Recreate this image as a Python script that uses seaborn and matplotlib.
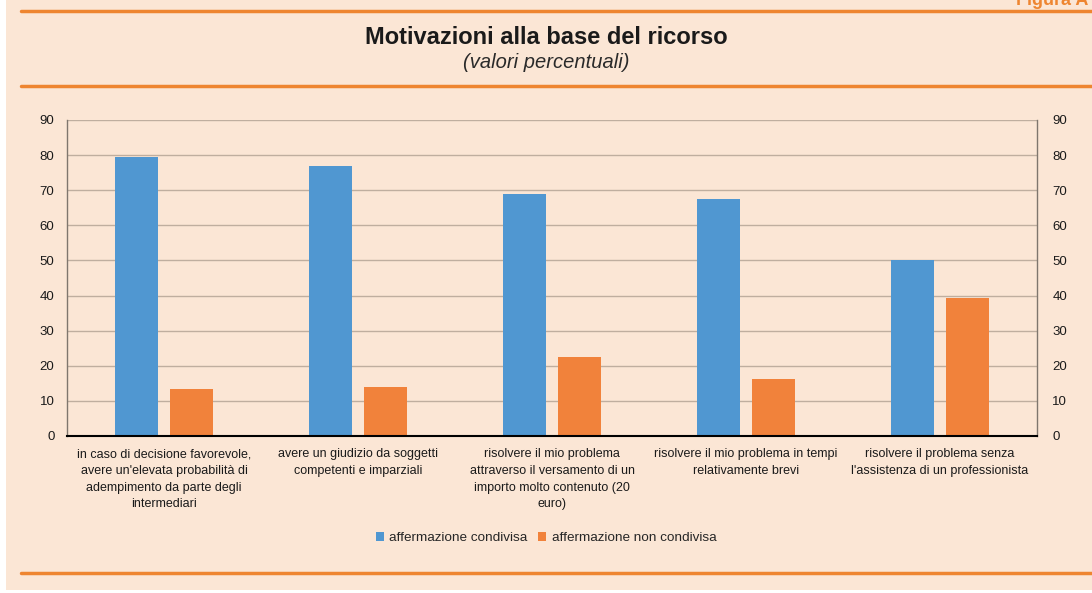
import pandas as pd
import matplotlib.pyplot as plt
import seaborn as sns
from matplotlib.patches import Rectangle

# Data
categories = [
    "in caso di decisione favorevole,\navere un'elevata probabilità di\nadempimento da parte degli\nintermediari",
    "avere un giudizio da soggetti\ncompetenti e imparziali",
    "risolvere il mio problema\nattraverso il versamento di un\nimporto molto contenuto (20\neuro)",
    "risolvere il mio problema in tempi\nrelativamente brevi",
    "risolvere il problema senza\nl'assistenza di un professionista",
]
condivisa = [79.5, 76.9, 68.9, 67.5, 50.1]
non_condivisa = [13.4, 14.0, 22.5, 16.2, 39.3]
series_names = ["affermazione condivisa", "affermazione non condivisa"]
y_ticks = list(range(0, 91, 10))

df = pd.DataFrame({
    "categoria": categories * 2,
    "serie": [series_names[0]] * 5 + [series_names[1]] * 5,
    "valore": condivisa + non_condivisa,
})

bg = "#FBE6D5"
orange_line = "#EE8530"
palette = {series_names[0]: "#5097D1", series_names[1]: "#F1823B"}

sns.set_style("white")
plt.rcParams['font.family'] = ['Liberation Sans', 'DejaVu Sans']

fig = plt.figure(figsize=(10.92, 5.93), dpi=100)
fig.patch.set_facecolor("white")
# peach panel
fig.patches.append(Rectangle((6 / 1092, 3 / 593), 1 - 6 / 1092, 1 - 3 / 593,
                             transform=fig.transFigure, facecolor=bg,
                             edgecolor="none", zorder=-10))
for yy in [11, 86, 573]:
    fig.add_artist(plt.Line2D([21 / 1092, 1.0], [1 - yy / 593, 1 - yy / 593],
                              transform=fig.transFigure, color=orange_line, lw=2.5))

# header label, cut at the top edge as in the original
fig.text(0.997, 1 - 5 / 593, "Figura A", ha="right", va="baseline",
         color=orange_line, fontsize=13, fontweight="bold")
fig.text(0.5, 1 - 37 / 593, "Motivazioni alla base del ricorso", ha="center",
         va="center", fontsize=17, fontweight="bold", color="#1a1a1a")
fig.text(0.5, 1 - 63 / 593, "(valori percentuali)", ha="center", va="center",
         fontsize=14.5, style="italic", color="#2a2a2a")

ax = fig.add_axes([67 / 1092, 1 - 436 / 593, (1037 - 67) / 1092, (436 - 120) / 593])
ax.set_facecolor(bg)

sns.barplot(data=df, x="categoria", y="valore", hue="serie", palette=palette,
            width=0.567, gap=0.22, ax=ax, saturation=1, legend=True,
            edgecolor="none")

ax.set_ylim(0, 90)
ax.set_yticks(y_ticks)
ax.set_xlim(-0.5, 4.5)
ax.yaxis.grid(True, color="#BFAE9F", lw=1)
ax.set_axisbelow(True)
ax.set_xlabel("")
ax.set_ylabel("")
ax.tick_params(axis="y", length=0, labelsize=9.5, colors="#1a1a1a", pad=9)
ax.tick_params(axis="x", length=0, labelsize=9, colors="#1a1a1a", pad=9)
for lab in ax.get_xticklabels():
    lab.set_linespacing(1.5)
for s in ["left", "right", "top"]:
    ax.spines[s].set_color("#7F766E")
    ax.spines[s].set_linewidth(1)
ax.spines["top"].set_visible(False)
ax.spines["bottom"].set_color("black")
ax.spines["bottom"].set_linewidth(1.5)

ax2 = ax.twinx()
ax2.set_ylim(0, 90)
ax2.set_yticks(y_ticks)
ax2.tick_params(axis="y", length=0, labelsize=9.5, colors="#1a1a1a", pad=11)
for s in ax2.spines.values():
    s.set_visible(False)

leg = ax.legend(loc="center", bbox_to_anchor=(0.5, 1 - 538 / 593), bbox_transform=fig.transFigure,
                ncol=2, frameon=False, fontsize=9.7, handlelength=0.6, handleheight=0.6,
                handletextpad=0.4, columnspacing=0.8)

fig.savefig("out.png", dpi=100, facecolor=fig.get_facecolor())
